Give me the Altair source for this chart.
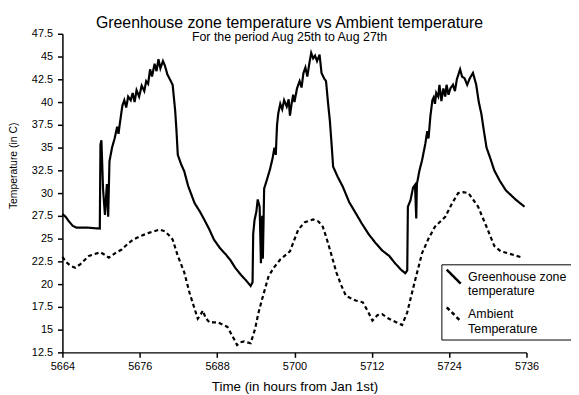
import altair as alt
import pandas as pd

gh_hours = [5664.0, 5664.5, 5665.0, 5665.6, 5666.2, 5668.0, 5669.8, 5669.9, 5670.05, 5670.3,
            5670.6, 5670.9, 5671.1, 5671.3, 5671.7, 5672.1, 5672.5, 5672.7, 5672.9, 5673.3,
            5673.6, 5673.9, 5674.2, 5674.6, 5674.9, 5675.2, 5675.5, 5675.9, 5676.3, 5676.7,
            5677.0, 5677.3, 5677.6, 5677.9, 5678.3, 5678.6, 5678.9, 5679.2, 5679.6, 5679.9,
            5680.3, 5680.6, 5681.1, 5681.5, 5681.7, 5681.9, 5682.4, 5682.9, 5683.5, 5684.5,
            5685.3, 5686.0, 5686.8, 5687.5, 5688.5, 5689.3, 5690.1, 5690.8, 5691.6, 5692.5,
            5693.2, 5693.5, 5693.6, 5693.8, 5694.1, 5694.3, 5694.6, 5694.8, 5695.0, 5695.1,
            5695.3, 5695.7, 5696.2, 5696.6, 5696.9, 5697.1, 5697.3, 5697.5, 5697.8, 5698.1,
            5698.4, 5698.8, 5699.1, 5699.3, 5699.6, 5699.8, 5700.0, 5700.4, 5700.8, 5701.1,
            5701.4, 5701.7, 5702.0, 5702.3, 5702.6, 5702.9, 5703.2, 5703.5, 5703.9, 5704.2,
            5704.6, 5704.9, 5705.2, 5705.5, 5705.8, 5706.0, 5706.7, 5707.5, 5708.5, 5709.5,
            5710.5, 5711.5, 5712.6, 5713.6, 5714.7, 5715.6, 5716.5, 5717.2, 5717.5, 5717.6,
            5718.0, 5718.4, 5718.7, 5718.9, 5719.0, 5719.4, 5719.8, 5720.3, 5720.6, 5720.8,
            5721.1, 5721.4, 5721.6, 5721.8, 5722.0, 5722.3, 5722.5, 5722.8, 5723.1, 5723.4,
            5723.6, 5723.9, 5724.2, 5724.6, 5724.9, 5725.2, 5725.7, 5726.0, 5726.4, 5726.8,
            5727.2, 5727.7, 5728.2, 5728.6, 5729.0, 5729.4, 5729.8, 5730.4, 5731.0, 5731.9,
            5732.8, 5734.3, 5735.7]
gh_temps = [27.7, 27.4, 26.9, 26.4, 26.2, 26.2, 26.1, 35.3, 35.8, 30.5,
            27.6, 31.0, 27.4, 33.5, 35.0, 36.0, 37.3, 36.5, 37.6, 39.6,
            40.2, 39.4, 40.6, 40.2, 41.0, 40.0, 41.3, 40.6, 41.8, 41.2,
            42.3, 42.0, 43.6, 42.8, 44.2, 43.4, 44.7, 43.7, 44.5, 44.0,
            43.0, 42.6, 41.9, 39.0, 36.8, 34.2, 33.2, 32.4, 30.8, 28.9,
            28.0, 27.1, 26.0, 24.9, 23.9, 23.3, 22.6, 21.8, 21.1, 20.4,
            19.8, 20.2, 25.5, 27.0, 28.0, 29.3, 28.5, 22.3, 27.5, 22.8,
            30.5, 31.4, 32.6, 33.8, 35.0, 34.2, 37.5, 38.8, 39.8, 39.2,
            40.2, 39.5, 40.3, 38.5, 40.0, 40.8, 40.0, 41.5, 42.3, 41.6,
            43.2, 43.8, 42.8, 44.2, 45.4, 44.8, 45.1, 44.5, 45.2, 43.2,
            42.6, 42.3, 40.0, 37.9, 35.0, 32.9, 31.8, 30.7, 29.0, 27.8,
            26.6, 25.5, 24.5, 23.7, 23.1, 22.3, 21.6, 21.2, 21.5, 28.5,
            29.2, 30.6, 30.9, 27.2, 31.0, 32.5, 33.6, 35.4, 36.8, 36.0,
            38.5, 40.2, 40.5, 39.8, 41.0, 40.6, 41.9, 40.1, 41.5, 40.6,
            41.9, 40.8, 41.5, 41.9, 41.2, 42.5, 43.6, 42.8, 42.6, 41.9,
            42.6, 43.2, 41.9, 40.0, 38.7, 36.8, 35.0, 33.8, 32.5, 31.3,
            30.3, 29.3, 28.5]

amb_hours = [5664.0, 5664.6, 5665.3, 5666.0, 5666.8, 5668.1, 5669.0, 5669.9, 5670.6, 5671.2,
             5672.2, 5673.2, 5674.1, 5675.0, 5676.2, 5677.3, 5678.2, 5679.1, 5679.9, 5680.5,
             5681.1, 5681.9, 5682.9, 5683.7, 5684.5, 5685.0, 5685.4, 5685.8, 5686.2, 5686.8,
             5688.1, 5689.6, 5690.6, 5691.1, 5691.6, 5692.2, 5693.2, 5693.9, 5694.4, 5695.0,
             5696.0, 5696.9, 5697.8, 5699.3, 5700.0, 5700.6, 5701.6, 5702.9, 5703.7, 5704.4,
             5705.0, 5705.5, 5706.5, 5707.3, 5708.0, 5709.5, 5710.6, 5711.4, 5712.1, 5712.9,
             5713.6, 5714.4, 5715.2, 5716.7, 5717.5, 5718.5, 5719.8, 5720.8, 5721.8, 5723.4,
             5724.4, 5725.4, 5726.2, 5727.0, 5728.5, 5729.8, 5731.0, 5732.0, 5733.1, 5735.4]
amb_temps = [23.0, 22.4, 22.0, 21.8, 22.2, 23.1, 23.3, 23.5, 23.2, 22.9,
             23.4, 23.8, 24.4, 24.9, 25.3, 25.6, 25.8, 26.0, 25.8, 25.4,
             24.9, 23.1, 21.3, 19.1, 17.3, 16.2, 16.6, 17.1, 16.3, 15.8,
             15.8, 15.3, 14.0, 13.3, 13.6, 13.7, 13.5, 15.1, 16.8, 18.4,
             20.9, 21.9, 22.7, 23.6, 24.9, 26.0, 26.8, 27.1, 26.9, 26.3,
             25.0, 23.8, 21.3, 19.8, 18.7, 18.2, 18.0, 17.0, 16.0, 16.6,
             16.7, 16.3, 16.0, 15.5, 16.9, 19.8, 23.4, 25.0, 26.3, 27.4,
             28.8, 30.0, 30.1, 30.0, 28.5, 26.3, 24.2, 23.6, 23.4, 22.9]

series_names = ["Greenhouse zone temperature", "Ambient Temperature"]
x_ticks = [5664, 5676, 5688, 5700, 5712, 5724, 5736]
y_ticks = [12.5, 15, 17.5, 20, 22.5, 25, 27.5, 30, 32.5, 35, 37.5, 40, 42.5, 45, 47.5]

df = pd.concat([
    pd.DataFrame({"hour": gh_hours, "temp": gh_temps, "series": series_names[0], "order": range(len(gh_hours))}),
    pd.DataFrame({"hour": amb_hours, "temp": amb_temps, "series": series_names[1], "order": range(len(amb_hours))}),
])

FONT = "Liberation Sans"

chart = alt.Chart(df).mark_line(color="black", strokeWidth=2.2).encode(
    x=alt.X("hour:Q",
            scale=alt.Scale(domain=[5664, 5736], nice=False, zero=False),
            axis=alt.Axis(values=x_ticks, format="d", title="Time (in hours from Jan 1st)",
                          grid=False, tickSize=5, labelPadding=3, titlePadding=9,
                          labelFlush=False, titleFontSize=13.5)),
    y=alt.Y("temp:Q",
            scale=alt.Scale(domain=[12.5, 47.5], nice=False, zero=False),
            axis=alt.Axis(values=y_ticks, format=".4~g", title="Temperature (in C)",
                          grid=False, tickSize=5, labelPadding=5, labelFlush=False,
                          titleX=-44, titleY=133, titleFontSize=10.5)),
    strokeDash=alt.StrokeDash("series:N",
                              scale=alt.Scale(domain=series_names, range=[[1, 0], [4, 3]]),
                              sort=series_names,
                              legend=alt.Legend(
                                  title=None, orient="none", legendX=383, legendY=233,
                                  strokeColor="black", padding=4,
                                  symbolType="M-1,-1L1,1", symbolSize=200,
                                  symbolStrokeWidth=2.5, symbolStrokeColor="black",
                                  labelFont=FONT, labelFontSize=12.5, labelColor="black",
                                  labelExpr="datum.label == 'Greenhouse zone temperature' ? ['Greenhouse zone', 'temperature'] : ['Ambient', 'Temperature']",
                                  rowPadding=4, labelOffset=6)),
    order="order:Q",
).properties(
    width=469, height=322,
    title=alt.TitleParams(
        text="Greenhouse zone temperature vs Ambient temperature",
        subtitle="For the period Aug 25th to Aug 27th",
        font=FONT, fontSize=16, fontWeight="normal", color="black",
        subtitleFont=FONT, subtitleFontSize=12.5, subtitleColor="black",
        subtitlePadding=0, anchor="middle", offset=-14, dx=-5, dy=2),
    autosize=alt.AutoSizeParams(type="none"),
    padding={"left": 55, "top": 24, "right": 45, "bottom": 40},
).configure_view(stroke=None).configure_axis(
    domainColor="black", tickColor="black", labelColor="black", titleColor="black",
    labelFont=FONT, titleFont=FONT, labelFontSize=11,
    titleFontWeight="normal", domainWidth=1.5, tickWidth=1.5,
)

chart.save("out.html", embed_options={"renderer": "svg", "actions": False})
